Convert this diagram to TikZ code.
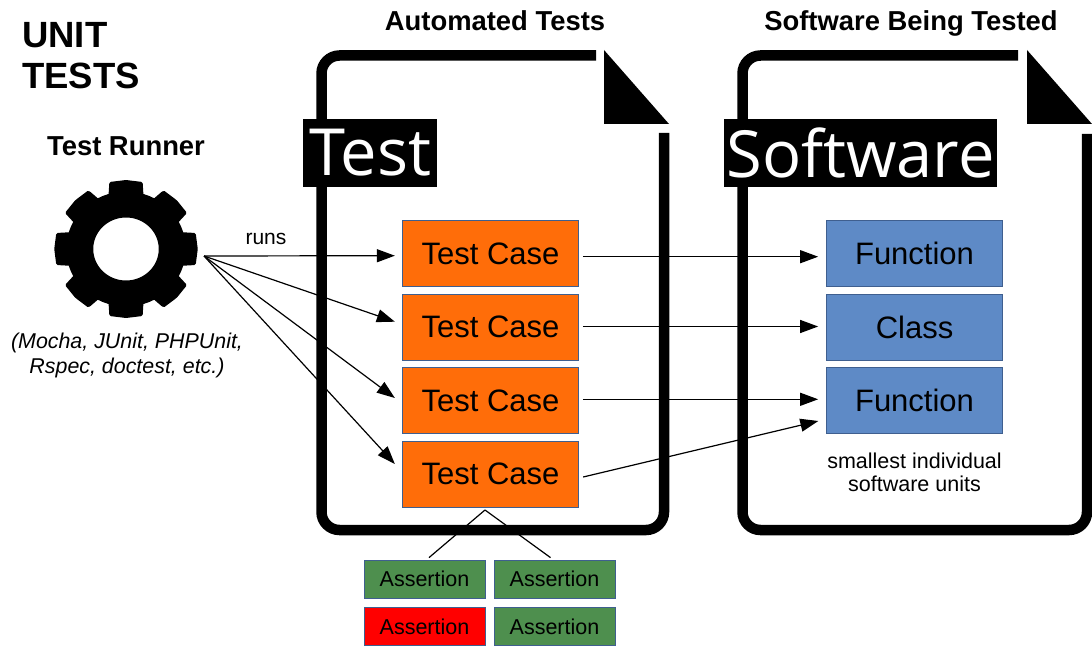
\documentclass[tikz,border=0pt]{standalone}
\usepackage{fontspec}
\setmainfont{Liberation Sans}
\newfontfamily\labelfont{Open Sans}
\usetikzlibrary{arrows.meta,positioning}
\definecolor{caseorange}{HTML}{FF6D09}
\definecolor{unitblue}{HTML}{5E8AC6}
\definecolor{assertgreen}{HTML}{4E8F4E}
\definecolor{boxedge}{HTML}{3F5F8F}
\begin{document}
\begin{tikzpicture}[x=1pt,y=-1pt,
 b/.style={draw=boxedge,line width=.8pt,minimum width=176.5pt,minimum height=66pt,inner sep=0pt,font=\fontsize{31}{36}\selectfont},
 tc/.style={b,fill=caseorange},
 su/.style={b,fill=unitblue},
 as/.style={draw=boxedge,line width=.8pt,minimum width=121pt,minimum height=38pt,inner sep=0pt,font=\fontsize{21.5}{26}\selectfont,fill=assertgreen},
 doc/.style={draw,line width=10.5pt,rounded corners=18pt},
 lab/.style={fill=black,text=white,inner sep=0pt,minimum height=68pt,font=\labelfont\fontsize{65}{80}\selectfont},
 head/.style={anchor=base,font=\bfseries\fontsize{27.4}{32}\selectfont},
 note/.style={align=center,font=\fontsize{21.5}{23.5}\selectfont},
 con/.style={line width=1.2pt},
 >={Triangle[length=18pt,width=13pt]}]
\useasboundingbox (0,0) rectangle (1092,647);
% document frames
\draw[doc] (596,55.5) -- (321.5,55.5) -- (321.5,530) -- (664,530) -- (664,133);
\draw[doc] (1018,55.5) -- (742.5,55.5) -- (742.5,530) -- (1087,530) -- (1087,134);
\fill (604,50) -- (669,124) -- (604,124) -- cycle;
\fill (1027,50) -- (1092,124) -- (1027,124) -- cycle;
\node[lab,minimum width=134pt] (testlab) at (370,153) {Test};
\node[lab,minimum width=273pt] (softlab) at (860.5,153) {Software};
% headings
\node[align=left,anchor=north west,font=\bfseries\fontsize{36.5}{41}\selectfont,inner sep=0pt] (title) at (22,22) {UNIT\\TESTS};
\node[head] (autohead) at (495,31) {Automated Tests};
\node[head] (softhead) at (911,31) {Software Being Tested};
\node[head] (runnerhead) at (126,156) {Test Runner};
% gear
\begin{scope}[shift={(126,249)},xscale=1.04]
\foreach \a in {0,45,...,315}
 \fill[rotate=\a,rounded corners=1.5pt] (-17,-50) -- (-16,-67) -- (0,-69) -- (16,-67) -- (17,-50) -- cycle;
\fill[even odd rule] (0,0) circle[radius=57.5] (0,0) circle[radius=31.5];
\end{scope}
\coordinate (gear) at (204,256);
\node[font=\fontsize{21}{25}\selectfont] (runs) at (266,239) {runs};
\node[note,font=\itshape\fontsize{21.4}{24.5}\selectfont] (tools) at (127,355.5) {(Mocha, JUnit, PHPUnit,\\Rspec, doctest, etc.)};
% test cases
\node[tc] (case1) at (490.5,253.5) {Test Case};
\node[tc] (case2) at (490.5,327) {Test Case};
\node[tc] (case3) at (490.5,400.5) {Test Case};
\node[tc] (case4) at (490.5,474) {Test Case};
% units
\node[su] (func1) at (914.5,253.5) {Function};
\node[su] (class) at (914.5,327) {Class};
\node[su] (func2) at (914.5,400.5) {Function};
\node[note] (units) at (914.5,472.5) {smallest individual\\software units};
% assertions
\node[as] (as1) at (424.5,579) {Assertion};
\node[as] (as2) at (554.5,579) {Assertion};
\node[as,fill=red] (as3) at (424.5,626.5) {Assertion};
\node[as] (as4) at (554.5,626.5) {Assertion};
% connectors
\draw[->,con] (gear) -- ([shift={(-7,2.2)}]case1.west);
\draw[->,con] (gear) -- ([shift={(-7,-5.3)}]case2.west);
\draw[->,con] (gear) -- ([shift={(-7,-2.5)}]case3.west);
\draw[->,con] (gear) -- ([shift={(-7,-10)}]case4.west);
\draw[->,con] ([shift={(3.7,3.2)}]case1.east) -- ([shift={(-7.7,3.2)}]func1.west);
\draw[->,con] ([shift={(3.7,-.5)}]case2.east) -- ([shift={(-7.7,-.5)}]class.west);
\draw[->,con] ([shift={(3.7,-1.2)}]case3.east) -- ([shift={(-7.7,-1.2)}]func2.west);
\draw[->,con] ([shift={(4,3)}]case4.east) -- ([shift={(-7.5,20.5)}]func2.west);
\coordinate (fork) at (485,510);
\draw[con] (fork) -- ([shift={(4.5,-2)}]as1.north);
\draw[con] (fork) -- ([shift={(-4,-2)}]as2.north);
\end{tikzpicture}
\end{document}
